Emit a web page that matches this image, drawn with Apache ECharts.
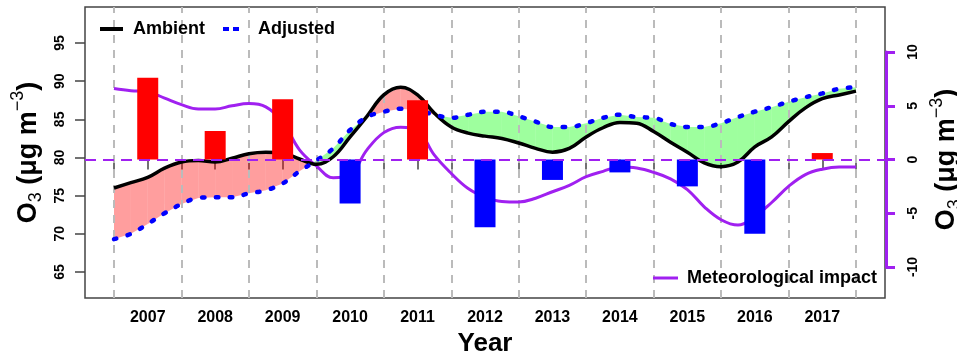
<!DOCTYPE html>
<html>
<head>
<meta charset="utf-8">
<script src="https://cdn.jsdelivr.net/npm/echarts@6/dist/echarts.min.js"></script>
<style>
  html, body { margin: 0; padding: 0; background: #ffffff; }
  #chart { width: 957px; height: 362px; }
</style>
</head>
<body>
<div id="chart"></div>
<script>
// Annual labels on the time axis
const years = [2007, 2008, 2009, 2010, 2011, 2012, 2013, 2014, 2015, 2016, 2017];

// Sample times for the smoothed curves (quarter-year steps)
const sampleTimes = [
  2006.5, 2006.75, 2007, 2007.25, 2007.5, 2007.75, 2008, 2008.25, 2008.5, 2008.75,
  2009, 2009.25, 2009.5, 2009.75, 2010, 2010.25, 2010.5, 2010.75, 2011, 2011.25,
  2011.5, 2011.75, 2012, 2012.25, 2012.5, 2012.75, 2013, 2013.25, 2013.5, 2013.75,
  2014, 2014.25, 2014.5, 2014.75, 2015, 2015.25, 2015.5, 2015.75, 2016, 2016.25,
  2016.5, 2016.75, 2017, 2017.25, 2017.5
];

// Ambient O3 (left axis, µg m-3)
const ambient = [
  76.0, 76.7, 77.4, 78.6, 79.4, 79.6, 79.4, 79.9, 80.5, 80.7,
  80.6, 79.8, 79.1, 80.1, 82.7, 85.4, 88.2, 89.2, 88.2, 85.8,
  84.0, 83.2, 82.8, 82.5, 81.9, 81.2, 80.7, 81.2, 82.7, 83.9,
  84.6, 84.5, 83.4, 82.0, 80.7, 79.3, 78.8, 79.4, 81.4, 82.7,
  84.7, 86.5, 87.7, 88.2, 88.7
];

// Meteorology-adjusted O3 (left axis, µg m-3)
const adjusted = [
  69.3, 70.0, 71.3, 72.7, 73.9, 74.7, 74.8, 74.8, 75.3, 75.7,
  76.6, 78.2, 79.6, 81.2, 83.6, 85.3, 86.0, 86.4, 86.2, 85.6,
  85.2, 85.6, 86.0, 86.0, 85.4, 84.7, 84.0, 84.0, 84.5, 85.2,
  85.6, 85.3, 85.2, 84.4, 84.0, 84.0, 84.5, 85.3, 86.0, 86.6,
  87.3, 87.9, 88.4, 89.0, 89.2
];

// Meteorological impact curve (right axis, µg m-3)
const metImpact = [
  6.6, 6.4, 6.3, 5.7, 5.1, 4.7, 4.7, 5.0, 5.2, 4.9,
  3.5, 0.9, -0.6, -1.7, -1.4, 0.9, 2.5, 3.0, 2.7, 0.4,
  -1.3, -2.7, -3.5, -3.9, -3.95, -3.6, -3.0, -2.4, -1.6, -1.1,
  -0.7, -0.8, -1.2, -1.8, -2.8, -4.4, -5.6, -6.1, -5.3, -4.0,
  -2.5, -1.4, -0.9, -0.7, -0.7
];

// Annual meteorological impact (bars, right axis)
const metAnnual = [7.6, 2.65, 5.6, -4.1, 5.5, -6.3, -1.9, -1.2, -2.5, -6.9, 0.6];

// Tick values
const leftTicks = [65, 70, 75, 80, 85, 90, 95];
const rightTicks = [-10, -5, 0, 5, 10];

const FONT = "'Liberation Sans', Arial, sans-serif";
const PURPLE = '#A020F0';
const RED_FILL = 'rgba(255, 0, 0, 0.38)';
const GREEN_FILL = 'rgba(0, 255, 0, 0.38)';

const yearBounds = years.map(y => y - 0.5).concat([years[years.length - 1] + 0.5]);
const xTicks = yearBounds.concat(years).sort((a, b) => a - b);

const pairs = (xs, ys) => xs.map((x, i) => [x, ys[i]]);

// Shaded band between the ambient and adjusted curves:
// red where ambient is higher, green where adjusted is higher.
function bandItem(params, api) {
  const i = params.dataIndex;
  const x0 = sampleTimes[i], x1 = sampleTimes[i + 1];
  const a0 = ambient[i], a1 = ambient[i + 1];
  const b0 = adjusted[i], b1 = adjusted[i + 1];
  const d0 = a0 - b0, d1 = a1 - b1;
  const P = (x, y) => api.coord([x, y]);
  const poly = (pts, up) => ({
    type: 'polygon',
    shape: { points: pts },
    style: { fill: up ? RED_FILL : GREEN_FILL }
  });
  const children = [];
  if (d0 * d1 >= 0) {
    children.push(poly([P(x0, a0), P(x1, a1), P(x1, b1), P(x0, b0)], (d0 + d1) >= 0));
  } else {
    const t = d0 / (d0 - d1);
    const xc = x0 + t * (x1 - x0);
    const yc = a0 + t * (a1 - a0);
    children.push(poly([P(x0, a0), P(xc, yc), P(x0, b0)], d0 > 0));
    children.push(poly([P(xc, yc), P(x1, a1), P(x1, b1)], d1 > 0));
  }
  return { type: 'group', children: children };
}

const axisTitle = '{o|O}{s|3}{o| (μg m}{p|−3}{o|)}';
const titleRich = {
  o: { fontSize: 27, fontWeight: 'bold', fontFamily: FONT, color: '#000' },
  s: { fontSize: 18, fontFamily: FONT, color: '#000', padding: [16, 0, 0, 0] },
  p: { fontSize: 18, fontFamily: FONT, color: '#000', padding: [0, 0, 20, 0] }
};

const legendText = { fontSize: 18, fontWeight: 'bold', fontFamily: FONT, color: '#000' };

const chart = echarts.init(document.getElementById('chart'), null, { renderer: 'canvas', width: 957, height: 362 });

chart.setOption({
  animation: false,
  backgroundColor: '#ffffff',
  grid: [
    {
      left: 85, top: 7, width: 800, height: 291, outerBoundsMode: 'none', containLabel: false,
      show: true, borderColor: '#444', borderWidth: 1.5, backgroundColor: 'transparent'
    },
    { left: 85, top: 52, width: 800, height: 215, outerBoundsMode: 'none', containLabel: false, show: false }
  ],
  legend: [
    {
      data: [{ name: 'Ambient', icon: 'rect' }], left: 100, top: 20, padding: 0,
      itemWidth: 23, itemHeight: 4, selectedMode: false,
      textStyle: Object.assign({ padding: [0, 0, 0, 5] }, legendText)
    },
    {
      data: [{ name: 'Adjusted', icon: 'path://M0 0H6V4H0Z M10 0H16V4H10Z' }], left: 223, top: 20, padding: 0,
      itemWidth: 20, itemHeight: 4, selectedMode: false,
      textStyle: Object.assign({ padding: [0, 0, 0, 12] }, legendText)
    },
    {
      data: [{ name: 'Meteorological impact', icon: 'rect' }], left: 653, top: 269, padding: 0,
      itemWidth: 25, itemHeight: 3, selectedMode: false,
      textStyle: Object.assign({ padding: [0, 0, 0, 4] }, legendText)
    }
  ],
  xAxis: [
    {
      type: 'value', gridIndex: 0, min: 2006.07, max: 2017.93,
      name: 'Year', nameLocation: 'middle', nameGap: 29,
      nameTextStyle: { fontSize: 26, fontWeight: 'bold', fontFamily: FONT, color: '#000' },
      axisLine: { show: false },
      axisTick: { show: true, customValues: xTicks, length: 10, lineStyle: { color: '#444', width: 1.5 } },
      axisLabel: {
        customValues: years, margin: 12, fontSize: 16, fontWeight: 'bold', fontFamily: FONT, color: '#000',
        formatter: v => String(v)
      },
      splitLine: { show: false }
    },
    { type: 'value', gridIndex: 1, min: 0, max: 1, show: false }
  ],
  yAxis: [
    {
      type: 'value', gridIndex: 0, position: 'left', min: 61.59, max: 99.72,
      name: axisTitle, nameLocation: 'middle', nameRotate: 90, nameGap: 36,
      nameTextStyle: { rich: titleRich },
      axisLine: { show: false },
      axisTick: { show: true, customValues: leftTicks, length: 10, lineStyle: { color: '#444', width: 1.5 } },
      axisLabel: { customValues: leftTicks, rotate: 90, margin: 18, fontSize: 14, fontWeight: 'bold', fontFamily: FONT, color: '#000' },
      splitLine: { show: false }
    },
    {
      type: 'value', gridIndex: 0, position: 'right', min: -12.884, max: 14.186,
      show: false, splitLine: { show: false }
    },
    {
      type: 'value', gridIndex: 1, position: 'right', offset: 1, min: -10, max: 10,
      name: axisTitle, nameLocation: 'middle', nameRotate: 90, nameGap: 36,
      nameTextStyle: { rich: titleRich },
      axisLine: { show: true, onZero: false, lineStyle: { color: PURPLE, width: 3 } },
      axisTick: { show: true, customValues: rightTicks, length: 9, lineStyle: { color: PURPLE, width: 3 } },
      axisLabel: { customValues: rightTicks, rotate: 90, margin: 20, fontSize: 14, fontWeight: 'bold', fontFamily: FONT, color: '#000' },
      splitLine: { show: false }
    }
  ],
  series: [
    {
      name: 'band', type: 'custom', xAxisIndex: 0, yAxisIndex: 0, z: 1, silent: true,
      data: sampleTimes.slice(0, -1).map((t, i) => [t, ambient[i], adjusted[i]]),
      encode: { x: 0, y: [1, 2] },
      renderItem: bandItem
    },
    {
      name: 'Meteorological impact', type: 'line', xAxisIndex: 0, yAxisIndex: 1, z: 3,
      data: pairs(sampleTimes, metImpact), smooth: 0.4, symbol: 'none', silent: true,
      lineStyle: { color: PURPLE, width: 3 }, itemStyle: { color: PURPLE },
      markLine: {
        silent: true, z: 2, symbol: ['none', 'none'], label: { show: false },
        lineStyle: { color: '#BBBBBB', type: [8, 7], width: 2 },
        emphasis: { disabled: true },
        data: yearBounds.map(v => ({ xAxis: v }))
      }
    },
    {
      name: 'Ambient', type: 'line', xAxisIndex: 0, yAxisIndex: 0, z: 4,
      data: pairs(sampleTimes, ambient), smooth: 0.4, symbol: 'none', silent: true,
      lineStyle: { color: '#000', width: 3.5 }, itemStyle: { color: '#000' }
    },
    {
      name: 'Adjusted', type: 'line', xAxisIndex: 0, yAxisIndex: 0, z: 4,
      data: pairs(sampleTimes, adjusted), smooth: 0.4, symbol: 'none', silent: true,
      lineStyle: { color: '#0000FF', width: 4.5, type: [2.5, 11.5], cap: 'round' }, itemStyle: { color: '#0000FF' }
    },
    {
      name: 'annual', type: 'bar', xAxisIndex: 0, yAxisIndex: 1, z: 5, silent: true,
      barWidth: 21,
      data: pairs(years, metAnnual),
      itemStyle: { color: p => (p.value[1] >= 0 ? '#FF0000' : '#0000FF') },
      markLine: {
        silent: true, z: 10, symbol: ['none', 'none'], label: { show: false },
        lineStyle: { color: PURPLE, type: [11, 7], width: 2 },
        emphasis: { disabled: true },
        data: [{ yAxis: 0 }]
      }
    }
  ]
});
</script>
</body>
</html>
